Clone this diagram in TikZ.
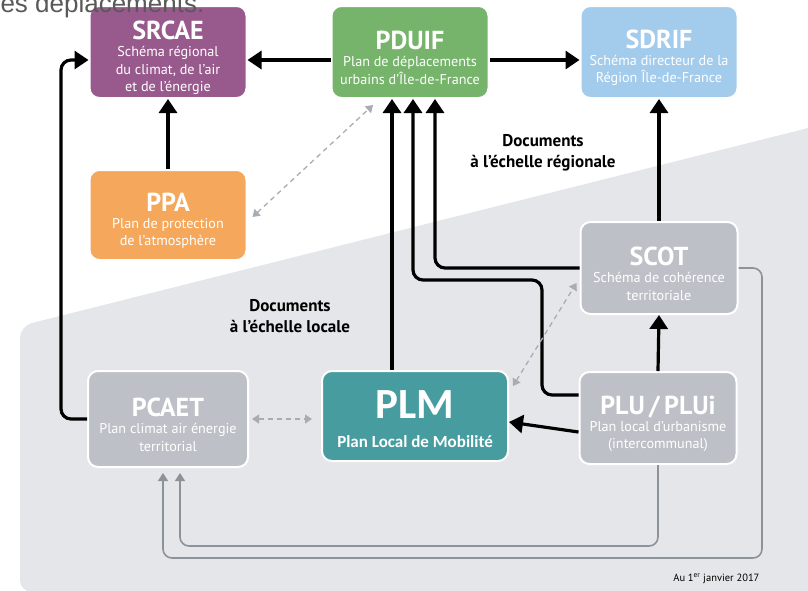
\documentclass[tikz,border=0pt]{standalone}
\usepackage{fontspec}
\setmainfont{PT Sans}
\newfontfamily\calfont{Carlito}
\newfontfamily\arialfont{Liberation Sans}
\usetikzlibrary{arrows.meta,positioning,calc}
\definecolor{srcaeC}{HTML}{985A8D}
\definecolor{pduifC}{HTML}{76B46B}
\definecolor{sdrifC}{HTML}{A3CBEC}
\definecolor{ppaC}{HTML}{F5A85B}
\definecolor{localC}{HTML}{BDC0C6}
\definecolor{plmC}{HTML}{469C9F}
\definecolor{zoneC}{HTML}{E5E6E9}
\definecolor{wireC}{HTML}{8B929A}
\definecolor{dashC}{HTML}{A8ADB4}
\newcommand{\doctitle}[1]{{\fontsize{26}{28}\selectfont\bfseries\rule{0pt}{30pt}#1}}

\begin{document}
\begin{tikzpicture}[x=1pt, y=-1pt,
    doc/.style={rectangle, rounded corners=10pt, draw=white, line width=2pt, text=white, align=center, minimum width=157pt, minimum height=92pt, font=\fontsize{14.2}{17.3}\selectfont},
    edge/.style={-{Triangle[length=14pt,width=18pt]}, line width=3.2pt, rounded corners=10pt},
    link/.style={-{Triangle[length=8pt,width=10pt]}, draw=wireC, line width=1.6pt, rounded corners=9pt},
    dlink/.style={{Triangle[length=7pt,width=9pt]}-{Triangle[length=7pt,width=9pt]}, draw=dashC, line width=1.3pt, dash pattern=on 5pt off 4pt},
    caption/.style={align=center, font=\fontsize{17}{20.5}\selectfont\bfseries}
]
\useasboundingbox (0,0) rectangle (808,590);
\fill[zoneC, rounded corners=12pt] (20,592) -- (20,326) -- (840,120) -- (840,600) -- cycle;

\node[doc, fill=srcaeC] (srcae) at (168,52) {\doctitle{SRCAE}\\[0pt]Schéma régional\\du climat, de l'air\\et de l'énergie};
\node[doc, fill=pduifC] (pduif) at (410,52) {\doctitle{PDUIF}\\[0pt]Plan de déplacements\\urbains d'Île-de-France};
\node[doc, fill=sdrifC] (sdrif) at (659,52) {\doctitle{SDRIF}\\[0pt]Schéma directeur de la\\Région Île-de-France};
\node[doc, fill=ppaC, minimum height=90pt] (ppa) at (168,215) {\doctitle{PPA}\\[0pt]Plan de protection\\de l'atmosphère};
\node[doc, fill=localC] (scot) at (659,268) {\doctitle{SCOT}\\[0pt]Schéma de cohérence\\territoriale};
\node[doc, fill=localC] (plu) at (658,418) {\doctitle{PLU\,/\,PLUi}\\[0pt]Plan local d'urbanisme\\(intercommunal)};
\node[doc, fill=localC, minimum width=160pt, minimum height=96pt] (pcaet) at (168,419) {\doctitle{PCAET}\\[0pt]Plan climat air énergie\\territorial};
\node[doc, fill=plmC, minimum width=186pt, minimum height=90pt, font=\calfont\fontsize{17}{19}\selectfont\bfseries] (plm) at (415,416) {{\fontsize{43}{44}\selectfont\rule{0pt}{35pt}PLM}\\[10pt]Plan Local de Mobilité};

\node[caption] (regional) at (543,153) {Documents\\à l'échelle régionale};
\node[caption] (locale) at (290,316) {Documents\\à l'échelle locale};
\node[anchor=base east, font=\fontsize{10.5}{12}\selectfont] (date) at (763,581) {Au 1\textsuperscript{er} janvier 2017};
\node[anchor=base west, text=black!65, font=\arialfont\fontsize{26}{28}\selectfont] (header) at (-3,12) {es déplacements.};

\draw[edge] ([yshift=-8pt]pduif.west) -- ([yshift=-8pt]srcae.east);
\draw[edge] ([yshift=-8pt]pduif.east) -- ([yshift=-8pt]sdrif.west);
\draw[edge] (ppa) -- (srcae);
\draw[edge] (pcaet.west) -- ++(-26,0) |- ([yshift=-8pt]srcae.west);
\draw[edge] (plm.north -| 392,0) -- (pduif.south -| 392,0);
\draw[edge] (plu.west |- 0,395) -| (542,280) -| (pduif.south -| 413,0);
\draw[edge] (scot.west) -| (pduif.south -| 435,0);
\draw[edge] (plu.north) -- (scot.south);
\draw[edge] (scot.north) -- (sdrif.south);
\draw[edge] ([yshift=-14pt]plu.west) -- ([yshift=-6pt]plm.east);

\draw[link, shorten >=5pt] (scot.east) -| (762,558) -| (pcaet.south -| 163,0);
\draw[link, shorten >=5pt] (plu.south) |- (180,546) -- (pcaet.south -| 180,0);

\draw[dlink] ([xshift=5pt,yshift=-2pt]ppa.east) -- ([xshift=-37pt,yshift=-6pt]pduif.south);
\draw[dlink, shorten <=3pt, shorten >=9pt] (pcaet.east) -- (plm.west |- pcaet.east);
\draw[dlink] ([xshift=4pt,yshift=-16pt]plm.north east) -- ([xshift=-3pt,yshift=32pt]scot.south west);
\end{tikzpicture}
\end{document}
